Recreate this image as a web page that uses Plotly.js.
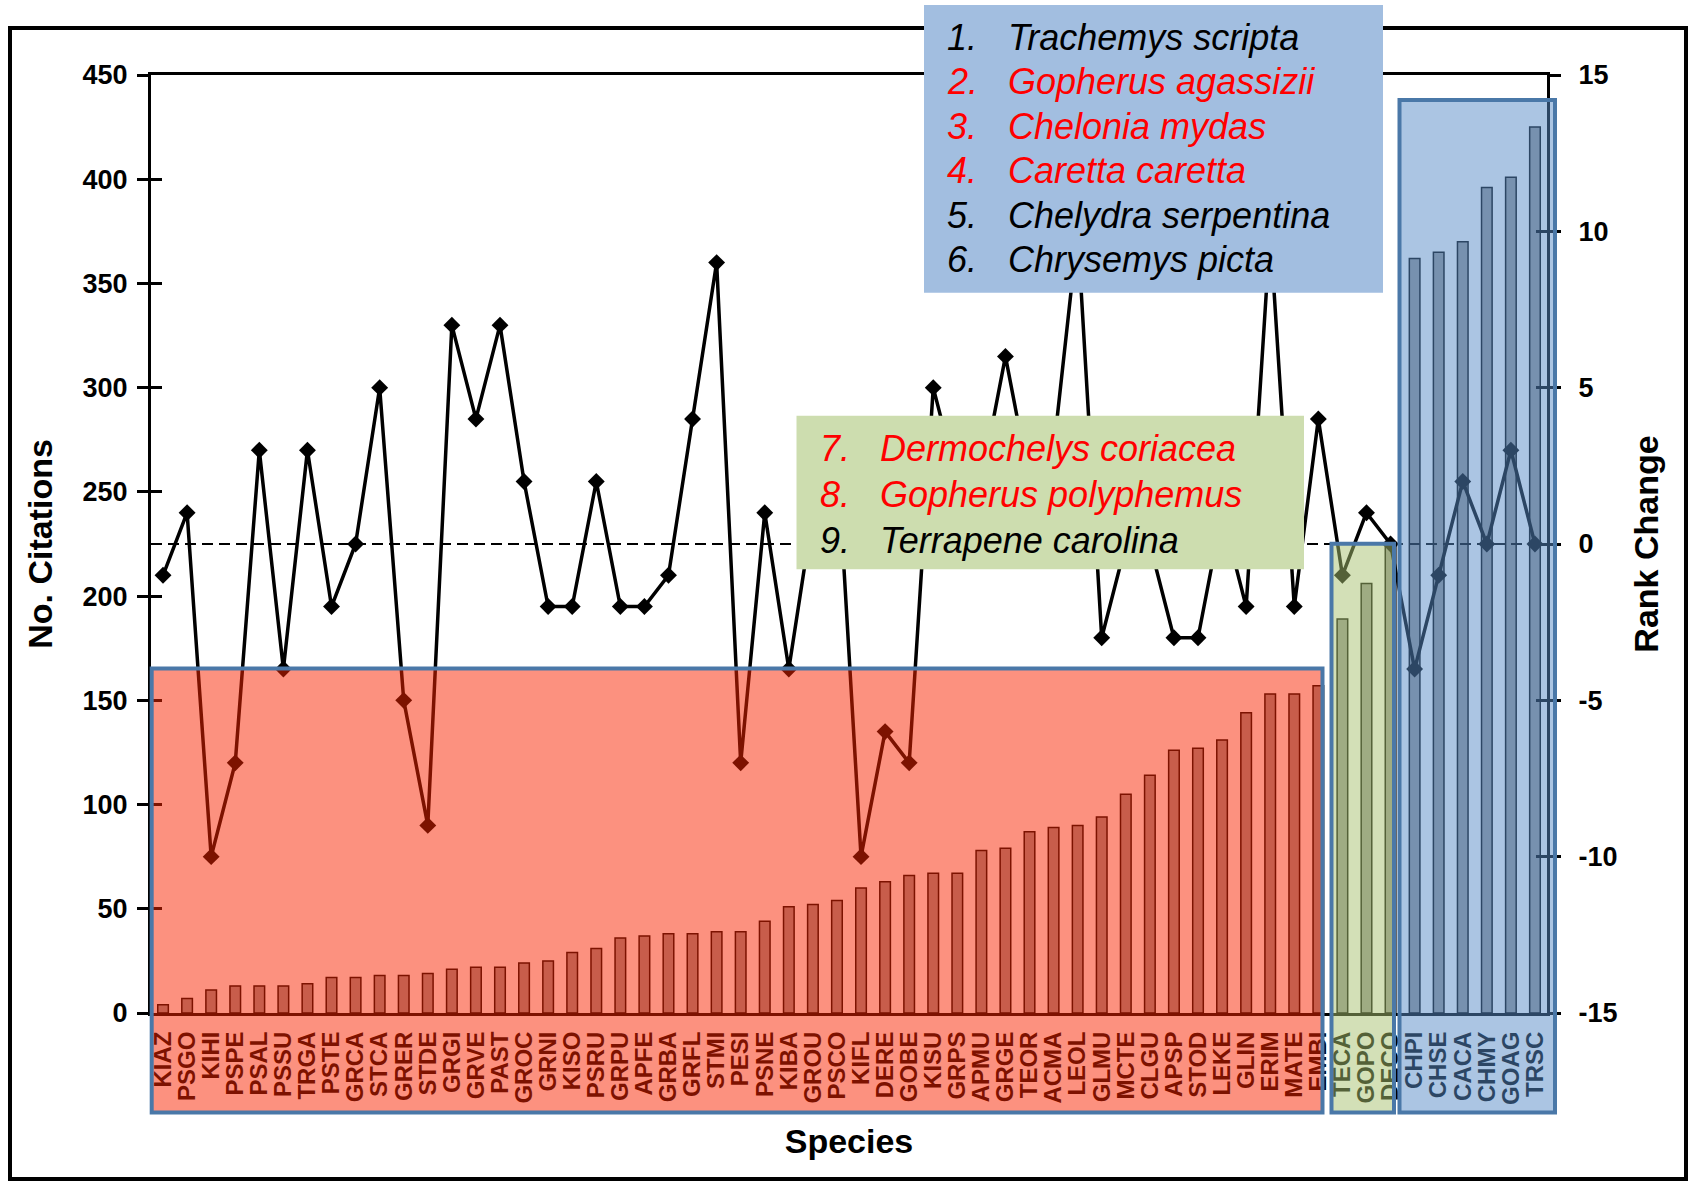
<!DOCTYPE html>
<html><head><meta charset="utf-8">
<script src="https://cdn.plot.ly/plotly-3.0.1.min.js"></script>
<style>html,body{margin:0;padding:0;background:#fff;}#chart{width:1700px;height:1185px;}</style>
</head><body><div id="chart"></div>
<script>
// ---- data ----
const species = ['KIAZ','PSGO','KIHI','PSPE','PSAL','PSSU','TRGA','PSTE','GRCA','STCA','GRER','STDE','GRGI','GRVE','PAST','GROC','GRNI','KISO','PSRU','GRPU','APFE','GRBA','GRFL','STMI','PESI','PSNE','KIBA','GROU','PSCO','KIFL','DERE','GOBE','KISU','GRPS','APMU','GRGE','TEOR','ACMA','LEOL','GLMU','MCTE','CLGU','APSP','STOD','LEKE','GLIN','ERIM','MATE','EMBI','TECA','GOPO','DECO','CHPI','CHSE','CACA','CHMY','GOAG','TRSC'];
const citations = [4,7,11,13,13,13,14,17,17,18,18,19,21,22,22,24,25,29,31,36,37,38,38,39,39,44,51,52,54,60,63,66,67,67,78,79,87,89,90,94,105,114,126,127,131,144,153,153,157,189,206,224,362,365,370,396,401,425];
const rankChange = [-1,1,-10,-7,3,-4,3,-2,0,5,-5,-9,7,4,7,2,-2,-2,2,-2,-2,-1,4,9,-7,1,-4,1,3,-10,-6,-7,5,2,2,6,2,3,10,-3,0,0,-3,-3,1,-2,10,-2,4,-1,1,0,-4,-1,2,0,3,0];
const citationTicks = [0,50,100,150,200,250,300,350,400,450];
const rankTicks = [-15,-10,-5,0,5,10,15];
const rankTickText = ['-15','-10','-5','0','5','10','15'];
const topListNums = ['1.','2.','3.','4.','5.','6.'];
const topListNames = ['Trachemys scripta','Gopherus agassizii','Chelonia mydas','Caretta caretta','Chelydra serpentina','Chrysemys picta'];
const topListColors = ['#000000','#FF0000','#FF0000','#FF0000','#000000','#000000'];
const midListNums = ['7.','8.','9.'];
const midListNames = ['Dermochelys coriacea','Gopherus polyphemus','Terrapene carolina'];
const midListColors = ['#FF0000','#FF0000','#000000'];

// ---- layout helpers (pixel -> paper) ----
const L = 151, T = 75, PW = 1396, PH = 938;
const px = v => (v - L) / PW;
const py = v => (T + PH - v) / PH;
const FONT = 'Liberation Sans, Arial, sans-serif';

const bars = {
  type: 'bar', x: species, y: citations, width: 0.44,
  marker: {color: 'rgb(150,150,150)', line: {color: '#000', width: 1.5}},
  xaxis: 'x', yaxis: 'y', hoverinfo: 'skip'
};
const line = {
  type: 'scatter', mode: 'lines+markers', x: species, y: rankChange,
  line: {color: '#000', width: 3.5},
  marker: {symbol: 'diamond', size: 13, color: '#000'},
  xaxis: 'x', yaxis: 'y2', hoverinfo: 'skip'
};

const shapes = [
  {type: 'line', xref: 'paper', yref: 'y2', x0: 0, x1: 1, y0: 0, y1: 0, layer: 'above',
   line: {color: '#000', width: 2, dash: '11px,6px'}},
  {type: 'rect', xref: 'paper', yref: 'paper', layer: 'above', x0: px(151.7), x1: px(1322.5), y0: py(1112.5), y1: py(668.5),
   fillcolor: 'rgba(250,36,0,0.5)', line: {color: '#4A78A8', width: 4}},
  {type: 'rect', xref: 'paper', yref: 'paper', layer: 'above', x0: px(1331.5), x1: px(1394), y0: py(1112.5), y1: py(543.7),
   fillcolor: 'rgba(168,194,112,0.5)', line: {color: '#4A78A8', width: 4}},
  {type: 'rect', xref: 'paper', yref: 'paper', layer: 'above', x0: px(1399.5), x1: px(1555), y0: py(1112.5), y1: py(100),
   fillcolor: 'rgba(88,140,200,0.5)', line: {color: '#4A78A8', width: 4}},
  {type: 'rect', xref: 'paper', yref: 'paper', layer: 'above', x0: px(10), x1: px(1686), y0: py(1179), y1: py(28),
   fillcolor: 'rgba(0,0,0,0)', line: {color: '#000', width: 4}},
  {type: 'rect', xref: 'paper', yref: 'paper', layer: 'above', x0: px(924), x1: px(1383), y0: py(292.7), y1: py(5),
   fillcolor: '#A2BEE0', line: {width: 0}},
  {type: 'rect', xref: 'paper', yref: 'paper', layer: 'above', x0: px(796.5), x1: px(1304), y0: py(569.3), y1: py(415.7),
   fillcolor: '#CDDDAF', line: {width: 0}}
];

const annotations = [];
function addList(nums, names, colors, xNum, xName, y0, dy) {
  for (let i = 0; i < nums.length; i++) {
    const f = {family: FONT, size: 36, color: colors[i], style: 'italic'};
    annotations.push({xref: 'paper', yref: 'paper', x: px(xNum), y: py(y0 + i * dy), text: nums[i],
      showarrow: false, xanchor: 'left', yanchor: 'middle', font: f, borderpad: 0});
    annotations.push({xref: 'paper', yref: 'paper', x: px(xName), y: py(y0 + i * dy), text: names[i],
      showarrow: false, xanchor: 'left', yanchor: 'middle', font: f, borderpad: 0});
  }
}
addList(topListNums, topListNames, topListColors, 946, 1007, 37.5, 44.4);
addList(midListNums, midListNames, midListColors, 819, 879, 449, 45.8);

const tickFont = {family: FONT, size: 27, color: '#000', weight: 'bold'};
const titleFont = {family: FONT, size: 34, color: '#000', weight: 'bold'};

const layout = {
  width: 1700, height: 1185,
  margin: {l: L, r: 1700 - L - PW, t: T, b: 1185 - T - PH, pad: 0},
  paper_bgcolor: '#fff', plot_bgcolor: 'rgba(0,0,0,0)',
  showlegend: false, bargap: 0,
  font: {family: FONT, color: '#000'},
  xaxis: {
    type: 'category', range: [-0.5, species.length - 0.5], tickangle: -90,
    tickmode: 'array', tickvals: species, ticktext: species,
    tickfont: {family: FONT, size: 24, color: '#000', weight: 'bold'},
    ticks: '', ticklabelstandoff: 6,
    showline: true, mirror: true, linecolor: '#000', linewidth: 3,
    showgrid: false, zeroline: false,
    title: {text: 'Species', font: titleFont, standoff: 26}
  },
  yaxis: {
    range: [0, 450], tickvals: citationTicks, ticks: 'outside', ticklen: 11, tickwidth: 3, tickcolor: '#000',
    showline: true, linecolor: '#000', linewidth: 3, showgrid: false, zeroline: false,
    tickfont: tickFont, ticklabelstandoff: 4,
    title: {text: 'No. Citations', font: titleFont, standoff: 20}
  },
  yaxis3: {
    overlaying: 'y', side: 'left', range: [0, 450], tickvals: citationTicks, ticks: 'inside', ticklen: 11,
    tickwidth: 3, tickcolor: '#000', showticklabels: false, showline: false, showgrid: false, zeroline: false
  },
  yaxis2: {
    overlaying: 'y', side: 'right', range: [-15, 15], tickvals: rankTicks, ticktext: rankTickText,
    ticks: 'outside', ticklen: 11, tickwidth: 3, tickcolor: '#000',
    showline: true, linecolor: '#000', linewidth: 3, showgrid: false, zeroline: false,
    tickfont: tickFont, ticklabelstandoff: 12,
    title: {text: 'Rank Change', font: titleFont, standoff: 18}
  },
  yaxis4: {
    overlaying: 'y', side: 'right', range: [-15, 15], tickvals: rankTicks, ticks: 'inside', ticklen: 11,
    tickwidth: 3, tickcolor: '#000', showticklabels: false, showline: false, showgrid: false, zeroline: false
  },
  shapes: shapes,
  annotations: annotations
};

const helper3 = {type: 'scatter', x: [species[0]], y: [0], yaxis: 'y3', mode: 'markers', marker: {opacity: 0}, hoverinfo: 'skip'};
const helper4 = {type: 'scatter', x: [species[0]], y: [0], yaxis: 'y4', mode: 'markers', marker: {opacity: 0}, hoverinfo: 'skip'};

Plotly.newPlot('chart', [helper3, helper4, bars, line], layout, {staticPlot: true, displayModeBar: false});
</script>
</body></html>
